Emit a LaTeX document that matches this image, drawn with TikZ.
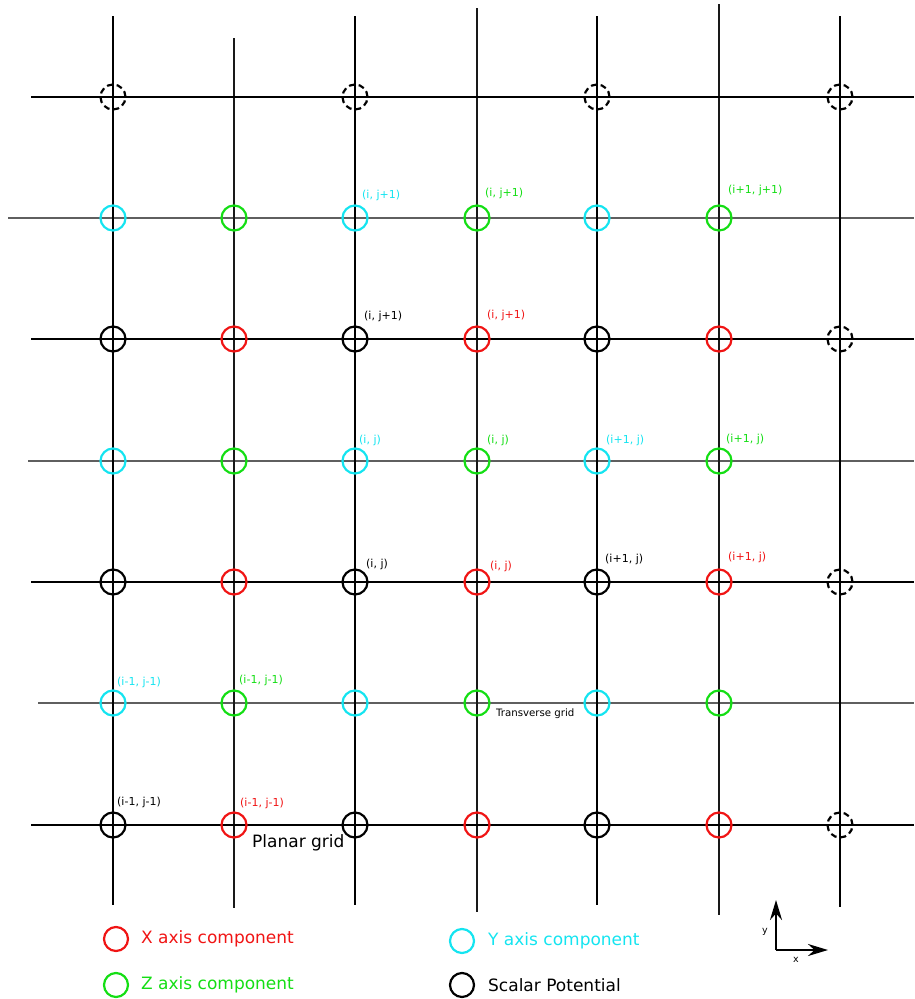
\documentclass[tikz,border=0pt]{standalone}
\usepackage{fontspec}
\setmainfont{DejaVu Sans}
\usetikzlibrary{arrows.meta}
\definecolor{cx}{RGB}{240,20,20}
\definecolor{cy}{RGB}{20,228,240}
\definecolor{cz}{RGB}{20,222,20}
\definecolor{thingray}{RGB}{95,95,95}
\definecolor{thindark}{RGB}{25,25,25}
\begin{document}
\begin{tikzpicture}[x=1pt,y=-1pt,
  thickline/.style={line width=2.8pt,black},
  thinh/.style={line width=1.5pt,thingray},
  thinv/.style={line width=1.2pt,thindark},
  comp/.style={circle,draw,line width=2.2pt,minimum size=25pt,inner sep=0pt},
  scal/.style={comp,draw=black},
  ghost/.style={comp,draw=black,dash pattern=on 6pt off 3.8pt},
  xcomp/.style={comp,draw=cx},
  ycomp/.style={comp,draw=cy},
  zcomp/.style={comp,draw=cz},
  lab/.style={font=\fontsize{11}{13}\selectfont,anchor=west,inner sep=0pt},
  legtext/.style={font=\fontsize{17}{20}\selectfont,anchor=west,inner sep=0pt},
  legcirc/.style={circle,draw,line width=2.2pt,minimum size=24pt,inner sep=0pt},
  axisarrow/.style={line width=2.2pt,-{Stealth[length=20pt,width=12pt]}}
]
\useasboundingbox (0,0) rectangle (914,999);

% grid line end points
\foreach \c/\x/\t/\b in {1/113/16/905,2/234/38/908,3/355/16/905,4/477/8/912,5/597/16/905,6/719/4/915,7/840/16/907}{
  \coordinate (vt\c) at (\x,\t);
  \coordinate (vb\c) at (\x,\b);
}
\foreach \r/\y/\l in {1/97/31,2/218/8,3/339/31,4/461/28,5/582/31,6/703/38,7/825/31}{
  \coordinate (hl\r) at (\l,\y);
  \coordinate (hr\r) at (914,\y);
}

% transverse (thin) lines
\foreach \r in {2,4,6} \draw[thinh] (hl\r) -- (hr\r);
\foreach \c in {2,4,6} \draw[thinv] (vt\c) -- (vb\c);
% planar (thick) lines
\foreach \r in {1,3,5,7} \draw[thickline] (hl\r) -- (hr\r);
\foreach \c in {1,3,5,7} \draw[thickline] (vt\c) -- (vb\c);

% field component nodes
\foreach \c/\x in {1/113,3/355,5/597,7/840} \node[ghost] (n\c1) at (\x,97) {};
\foreach \r/\y in {2/218,4/461,6/703}{
  \foreach \c/\x in {1/113,3/355,5/597} \node[ycomp] (n\c\r) at (\x,\y) {};
  \foreach \c/\x in {2/234,4/477,6/719} \node[zcomp] (n\c\r) at (\x,\y) {};
}
\foreach \r/\y in {3/339,5/582,7/825}{
  \foreach \c/\x in {1/113,3/355,5/597} \node[scal] (n\c\r) at (\x,\y) {};
  \foreach \c/\x in {2/234,4/477,6/719} \node[xcomp] (n\c\r) at (\x,\y) {};
  \node[ghost] (n7\r) at (840,\y) {};
}

% index labels
\node[lab,text=cy] (la1) at (362,195) {(i, j+1)};
\node[lab,text=cz] (la2) at (485,193) {(i, j+1)};
\node[lab,text=cz] (la3) at (728,190) {(i+1, j+1)};
\node[lab,text=black] (la4) at (364,316) {(i, j+1)};
\node[lab,text=cx] (la5) at (487,315) {(i, j+1)};
\node[lab,text=cy] (la6) at (359,440) {(i, j)};
\node[lab,text=cz] (la7) at (487,440) {(i, j)};
\node[lab,text=cy] (la8) at (606,440) {(i+1, j)};
\node[lab,text=cz] (la9) at (726,439) {(i+1, j)};
\node[lab,text=black] (la10) at (366,564) {(i, j)};
\node[lab,text=cx] (la11) at (490,566) {(i, j)};
\node[lab,text=black] (la12) at (605,559) {(i+1, j)};
\node[lab,text=cx] (la13) at (728,557) {(i+1, j)};
\node[lab,text=cy] (la14) at (117,682) {(i-1, j-1)};
\node[lab,text=cz] (la15) at (239,680) {(i-1, j-1)};
\node[lab,text=black] (la16) at (117,802) {(i-1, j-1)};
\node[lab,text=cx] (la17) at (240,803) {(i-1, j-1)};

\node[legtext] (planar) at (252,843) {Planar grid};
\node[font=\fontsize{10.2}{12}\selectfont,anchor=west,inner sep=0pt] (transverse) at (496,714) {Transverse grid};

% legend
\node[legcirc,draw=cx] (lx) at (116,939) {};
\node[legtext,text=cx] (lxt) at (141,939) {X axis component};
\node[legcirc,draw=cy] (ly) at (462,941) {};
\node[legtext,text=cy] (lyt) at (488,941) {Y axis component};
\node[legcirc,draw=cz] (lz) at (116,985) {};
\node[legtext,text=cz] (lzt) at (141,985) {Z axis component};
\node[legcirc,draw=black] (ls) at (462,985) {};
\node[legtext,text=black] (lst) at (488,985) {Scalar Potential};

% axes
\coordinate (ao) at (776,950);
\coordinate (ay) at (776,900);
\coordinate (ax) at (828,950);
\draw[axisarrow] (ao) -- (ay);
\draw[axisarrow] (ao) -- (ax);
\node[font=\fontsize{9.5}{11}\selectfont,inner sep=0pt] (ylab) at (765,932) {y};
\node[font=\fontsize{9.5}{11}\selectfont,inner sep=0pt] (xlab) at (796,960) {x};
\end{tikzpicture}
\end{document}
